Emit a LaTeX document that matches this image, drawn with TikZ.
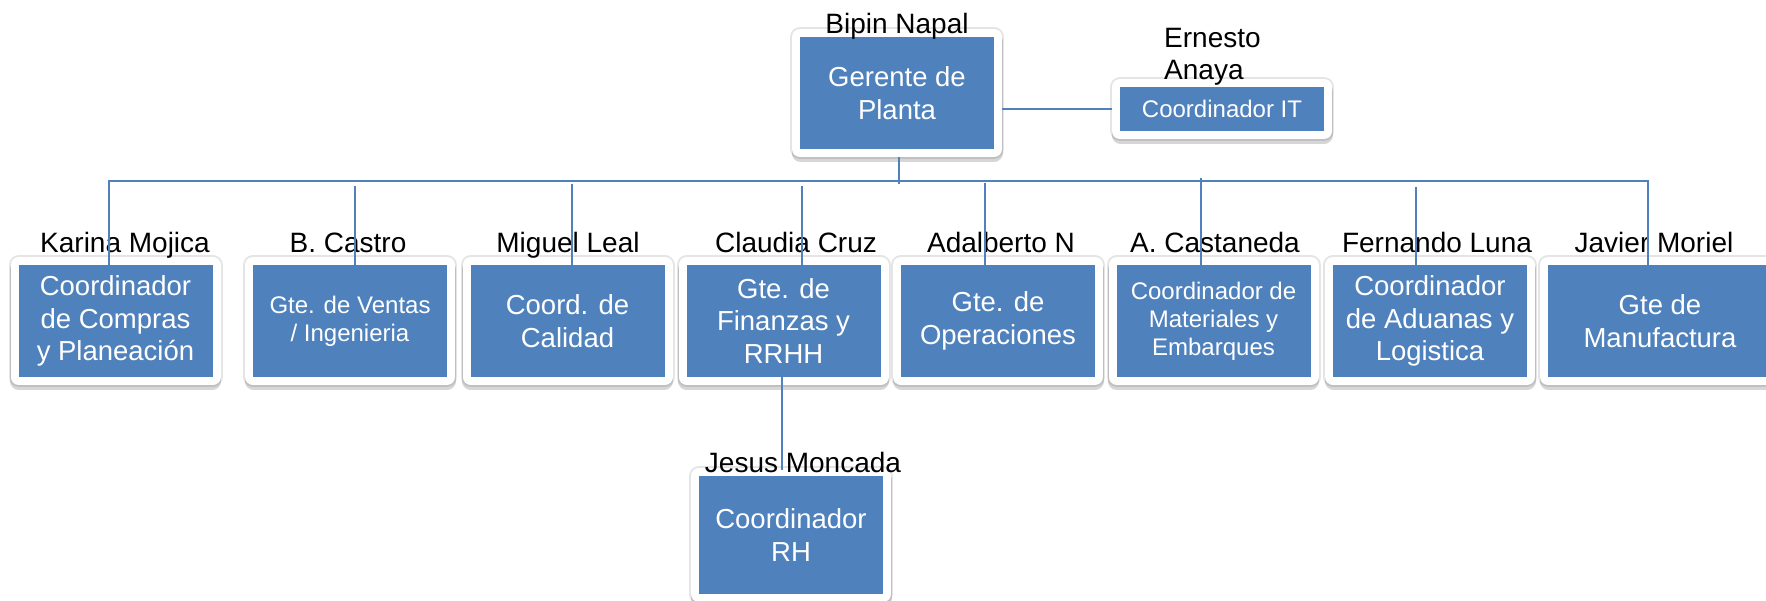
\documentclass[tikz,border=0pt]{standalone}
\usepackage{fontspec}
\setmainfont{Liberation Sans}
\definecolor{boxblue}{HTML}{4F81BD}
\tikzset{
  unit/.style={fill=boxblue, text=white, align=center, inner sep=0pt,
    minimum width=194pt, minimum height=112pt,
    font=\fontsize{27.5}{32.5}\selectfont,
    preaction={draw=black, opacity=.10, line width=20pt, line join=round},
    preaction={draw=black, opacity=.16, line width=17pt, line join=round,
      transform canvas={yshift=-4pt}},
    preaction={draw=white, line width=16pt, line join=round}},
  small/.style={font=\fontsize{24}{28}\selectfont},
  who/.style={anchor=base, inner sep=0pt, font=\fontsize{28}{32}\selectfont},
  link/.style={draw=boxblue, line width=1.6pt}
}
\begin{document}
\begin{tikzpicture}[x=1pt,y=-1pt]
\useasboundingbox (0,0) rectangle (1766,600);
\node[unit] (gp) at (897,93) {Gerente de\\Planta};
\node[unit, small, minimum width=204pt, minimum height=44pt] (it) at (1222,109) {Coordinador IT};
\node[unit] (cp) at (115.5,321) {Coordinador\\de Compras\\y Planeación};
\node[unit, small] (vi) at (350,321) {Gte. de Ventas\\/ Ingenieria};
\node[unit] (cc) at (567.5,321) {Coord. de\\Calidad};
\node[unit] (fr) at (783.5,321) {Gte. de\\Finanzas y\\RRHH};
\node[unit] (op) at (998,321) {Gte. de\\Operaciones};
\node[unit, small] (me) at (1213.5,321) {Coordinador de\\Materiales y\\Embarques};
\node[unit] (al) at (1430,321) {Coordinador\\de Aduanas y\\Logistica};
\node[unit, minimum width=224pt] (mf) at (1660,321) {Gte de\\Manufactura};
\node[unit, minimum width=184pt, minimum height=118pt] (rh) at (791,535) {Coordinador\\RH};
\node[who] (ngp) at (897,33) {Bipin Napal};
\node[who, anchor=base west, align=left] (nit) at (1164,79) {Ernesto\\Anaya};
\node[who] (ncp) at (125,252) {Karina Mojica};
\node[who] (nvi) at (348,252) {B. Castro};
\node[who] (ncc) at (568,252) {Miguel Leal};
\node[who] (nfr) at (796,252) {Claudia Cruz};
\node[who] (nop) at (1001,252) {Adalberto N};
\node[who] (nme) at (1215,252) {A. Castaneda};
\node[who] (nal) at (1437,252) {Fernando Luna};
\node[who] (nmf) at (1654,252) {Javier Moriel};
\node[who] (nrh) at (803,472) {Jesus Moncada};
\coordinate (bl) at (109,181);
\coordinate (br) at (1648,181);
\coordinate (bg) at (899,184);
\coordinate (dvi) at (355,186);
\coordinate (dcc) at (572,184);
\coordinate (dfr) at (802,186);
\coordinate (dop) at (985,183);
\coordinate (dme) at (1201,178);
\coordinate (dal) at (1416,187);
\coordinate (drh) at (782,470);
\draw[link] (cp.north -| bl) -- (bl) -- (br) -- (mf.north -| br);
\path[link, shorten <=8pt] (gp.south -| bg) edge (bg);
\path[link, shorten <=8pt, shorten >=8pt] (gp.east |- it.west) edge (it.west);
\path[link] (dvi) edge (vi.north -| dvi) (dcc) edge (cc.north -| dcc) (dfr) edge (fr.north -| dfr);
\path[link] (dop) edge (op.north -| dop) (dme) edge (me.north -| dme) (dal) edge (al.north -| dal);
\path[link] (fr.south -| drh) edge (drh);
\end{tikzpicture}
\end{document}
